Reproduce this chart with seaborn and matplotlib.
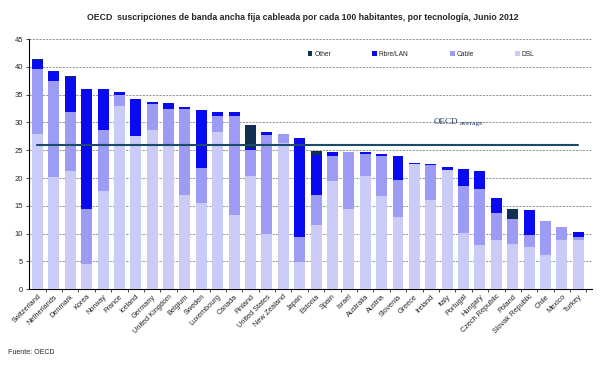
import numpy as np
import pandas as pd
import matplotlib
matplotlib.use('Agg')
import matplotlib.pyplot as plt
import seaborn as sns
from matplotlib.patches import Patch

countries = ["Switzerland", "Netherlands", "Denmark", "Korea", "Norway", "France", "Iceland",
             "Germany", "United Kingdom", "Belgium", "Sweden", "Luxembourg", "Canada", "Finland",
             "United States", "New Zealand", "Japan", "Estonia", "Spain", "Israel", "Australia",
             "Austria", "Slovenia", "Greece", "Ireland", "Italy", "Portugal", "Hungary",
             "Czech Republic", "Poland", "Slovak Republic", "Chile", "Mexico", "Turkey"]

dsl = [27.9, 20.15, 21.35, 4.6, 17.7, 32.9, 27.6, 28.65, 26.0, 16.85, 15.5, 28.35, 13.4, 20.3,
       10.0, 26.3, 4.9, 11.6, 19.5, 14.5, 20.3, 16.7, 13.0, 22.55, 16.0, 21.5, 10.15, 8.0,
       8.8, 8.2, 7.5, 6.1, 8.8, 8.9]
cable = [11.8, 17.35, 10.55, 9.9, 10.9, 2.0, 0.0, 4.65, 6.5, 15.65, 6.3, 2.85, 17.8, 4.8,
         17.8, 1.6, 4.5, 5.4, 4.5, 10.1, 4.05, 7.35, 6.7, 0.0, 6.35, 0.0, 8.5, 10.05,
         4.95, 4.35, 2.15, 6.1, 2.35, 0.55]
fibre = [1.5, 1.75, 6.3, 21.6, 7.4, 0.6, 6.7, 0.45, 1.05, 0.2, 10.45, 0.75, 0.65, 0.3,
         0.45, 0.0, 17.8, 7.2, 0.7, 0.0, 0.25, 0.35, 4.35, 0.15, 0.15, 0.55, 3.0, 3.15,
         2.65, 0.0, 4.5, 0.05, 0.0, 0.85]
other = [0.3, 0, 0.1, 0, 0.1, 0, 0, 0, 0, 0, 0, 0, 0, 4.15, 0, 0, 0, 0.75, 0, 0, 0, 0,
         0, 0, 0, 0, 0, 0, 0, 1.9, 0, 0, 0, 0]
oecd_avg = 25.9

colores = {'Other': '#0F3050', 'Fibre/LAN': '#0A0AF0', 'Cable': '#9C9CF5', 'DSL': '#CBCBF8'}

df = pd.DataFrame({'pais': countries, 'DSL': dsl, 'Cable': cable, 'Fibre/LAN': fibre, 'Other': other})
df['c_cable'] = df['DSL'] + df['Cable']
df['c_fibre'] = df['c_cable'] + df['Fibre/LAN']
df['c_other'] = df['c_fibre'] + df['Other']

sns.set_style('white')
plt.rcParams['font.family'] = ['Liberation Sans', 'DejaVu Sans']

fig = plt.figure(figsize=(6, 3.73), dpi=100)
ax = fig.add_axes([0.048, 0.225, 0.939, 0.67])

# barras apiladas: se dibujan los acumulados de atras hacia adelante
for col, serie in [('c_other', 'Other'), ('c_fibre', 'Fibre/LAN'), ('c_cable', 'Cable'), ('DSL', 'DSL')]:
    sns.barplot(data=df, x='pais', y=col, color=colores[serie], saturation=1, width=0.67,
                edgecolor='none', linewidth=0, ax=ax, zorder=3)

ax.plot([0, len(countries) - 1], [oecd_avg, oecd_avg], color='#1B4A6B', lw=1.5, zorder=5)
ax.text(24.2, 30.0, 'OECD', fontsize=6.5, color='#1F3A64', family='Liberation Serif', va='center')
ax.text(25.75, 29.85, 'average', fontsize=5.4, color='#1F3A64', family='Liberation Serif', va='center')

ax.set_ylim(0, 45)
ax.set_xlim(-0.53, 33.85)
ax.set_yticks(range(0, 50, 5))
ax.tick_params(axis='y', labelsize=5.5, length=2, width=0.6, direction='out', pad=2, left=True)
ax.set_xticks(range(len(countries)))
ax.set_xticklabels(countries, rotation=45, ha='right', rotation_mode='anchor', fontsize=5.3)
ax.tick_params(axis='x', length=0, pad=3)
ax.set_xticks(np.arange(0.5, len(countries), 1), minor=True)
ax.tick_params(axis='x', which='minor', length=2, width=0.6, direction='out', bottom=True)
ax.set_xlabel('')
ax.set_ylabel('')

for v in range(5, 50, 5):
    ax.axhline(v, color='#7F7F7F', lw=0.6, ls=(0, (2.5, 1.5)), zorder=1)

for s in ['top', 'right']:
    ax.spines[s].set_visible(False)
for s in ['left', 'bottom']:
    ax.spines[s].set_color('black')
    ax.spines[s].set_linewidth(0.8)

handles = [Patch(facecolor=colores[k], edgecolor='none') for k in ['Other', 'Fibre/LAN', 'Cable', 'DSL']]
ax.legend(handles, ['Other', 'Fibre/LAN', 'Cable', 'DSL'], ncol=4, frameon=False, fontsize=4.8,
          loc='center left', bbox_to_anchor=(0.49, 0.94), handlelength=0.7, handleheight=0.7,
          handletextpad=0.3, columnspacing=6.2, borderaxespad=0)

fig.text(0.505, 0.954, 'OECD  suscripciones de banda ancha fija cableada por cada 100 habitantes, por tecnología, Junio 2012',
         ha='center', va='center', fontsize=6.3, fontweight='bold')
fig.text(0.013, 0.055, 'Fuente: OECD', fontsize=5, ha='left', va='center')

fig.savefig('out.png', dpi=100)
